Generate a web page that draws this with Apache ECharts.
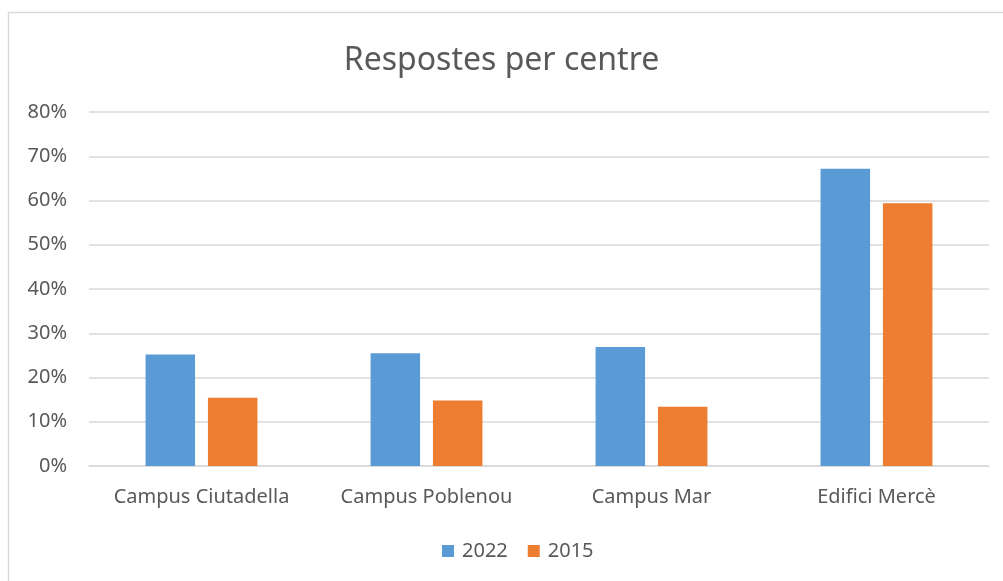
<!DOCTYPE html>
<html>
<head>
<meta charset="utf-8">
<script src="https://cdn.jsdelivr.net/npm/echarts@6/dist/echarts.min.js"></script>
<style>
  html, body { margin: 0; padding: 0; background: #fff; }
</style>
</head>
<body>
<div style="width:1003px;height:581px;" id="chart"></div>
<script>
// dades llegides del gràfic
let centres = ['Campus Ciutadella', 'Campus Poblenou', 'Campus Mar', 'Edifici Mercè'];
let resp2022 = [25.2, 25.5, 26.9, 67.2];
let resp2015 = [15.4, 14.8, 13.4, 59.4];
let yTicks = [0, 10, 20, 30, 40, 50, 60, 70, 80];

let myChart = echarts.init(document.getElementById('chart'));
let font = 'Noto Sans';

let option = {
  animation: false,
  textStyle: {fontFamily: font},
  graphic: [{
    type: 'rect',
    shape: {x: 8.5, y: 12.5, width: 1010, height: 600},
    style: {fill: 'none', stroke: '#d9d9d9', lineWidth: 1.5},
    silent: true
  }],
  title: {
    text: 'Respostes per centre',
    left: 'center',
    top: 40,
    textStyle: {fontFamily: font, fontSize: 32, fontWeight: 'normal', color: '#595959'}
  },
  legend: {
    data: ['2022', '2015'],
    bottom: 15,
    left: 437,
    itemWidth: 12,
    itemHeight: 12,
    itemGap: 20,
    icon: 'rect',
    textStyle: {fontFamily: font, fontSize: 20, color: '#595959', padding: [0, 0, 0, 3]}
  },
  grid: {left: 89, right: 14, top: 112, bottom: 115},
  xAxis: {
    type: 'category',
    data: centres,
    axisTick: {show: false},
    axisLine: {lineStyle: {color: '#d9d9d9', width: 1.5}},
    axisLabel: {fontFamily: font, fontSize: 20, color: '#595959', margin: 21, interval: 0}
  },
  yAxis: {
    type: 'value',
    min: yTicks[0],
    max: yTicks[yTicks.length - 1],
    interval: 10,
    axisLine: {show: false},
    axisTick: {show: false},
    splitLine: {lineStyle: {color: '#d9d9d9', width: 1.5}},
    axisLabel: {fontFamily: font, fontSize: 20, color: '#595959', margin: 22, formatter: '{value}%'}
  },
  series: [
    {
      name: '2022',
      type: 'bar',
      data: resp2022,
      barWidth: '22%',
      barGap: '26%',
      itemStyle: {color: '#5b9bd5'}
    },
    {
      name: '2015',
      type: 'bar',
      data: resp2015,
      barWidth: '22%',
      itemStyle: {color: '#ed7d31'}
    }
  ]
};

option && myChart.setOption(option);
</script>
</body>
</html>
